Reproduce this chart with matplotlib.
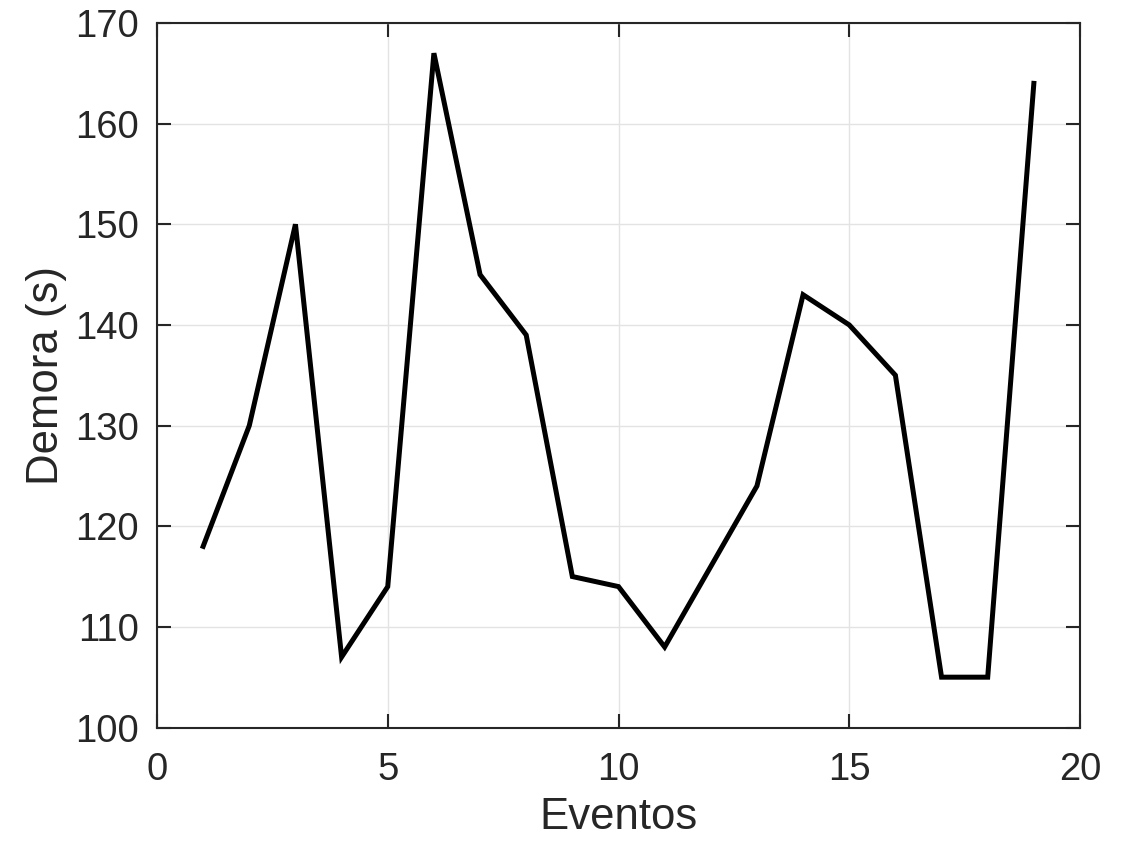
import matplotlib.pyplot as plt

# eventos y demora
eventos = list(range(1, 20))
demora = [118, 130, 150, 107, 114, 167, 145, 139, 115, 114, 108, 116, 124, 143, 140, 135, 105, 105, 164]

plt.rcParams['font.family'] = ['Liberation Sans', 'DejaVu Sans']

fig = plt.figure(figsize=(11.32, 8.48), dpi=100)
ax = fig.add_axes([157/1132, 1 - 727.5/848, (1080 - 157)/1132, (727.5 - 23)/848])

ax.plot(eventos, demora, color='black', linewidth=3.6, solid_joinstyle='miter')

ax.set_xlim(0, 20)
ax.set_ylim(100, 170)
ax.set_xticks([0, 5, 10, 15, 20])
ax.set_yticks(range(100, 171, 10))
ax.grid(True, color='#e3e3e3', linewidth=1.0)
ax.set_axisbelow(True)

for s in ax.spines.values():
    s.set_color('#262626')
    s.set_linewidth(1.5)
ax.tick_params(direction='in', length=10, width=1.5, colors='#262626',
               labelsize=27.5, top=True, right=True)
ax.tick_params(axis='x', pad=18)
ax.tick_params(axis='y', pad=13)
ax.set_xlabel('Eventos', fontsize=31.5, color='#262626', labelpad=6)
ax.set_ylabel('Demora (s)', fontsize=31.5, color='#262626', labelpad=6)

fig.savefig('out.png', dpi=100)
